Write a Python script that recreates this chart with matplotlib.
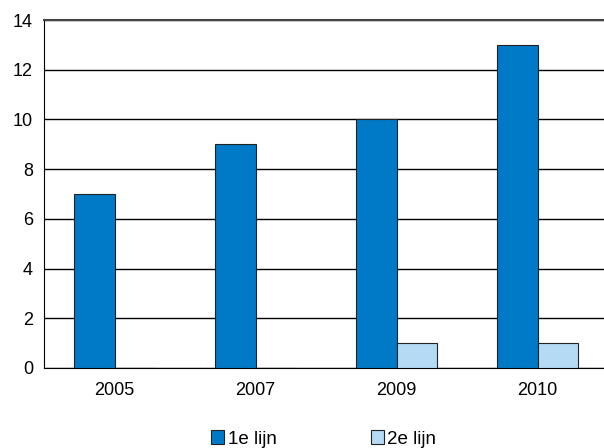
import numpy as np
import matplotlib.pyplot as plt

plt.rcParams['font.family'] = ['Liberation Sans', 'DejaVu Sans']

# data
jaren = ['2005', '2007', '2009', '2010']
eerste_lijn = [7, 9, 10, 13]
tweede_lijn = [0, 0, 1, 1]

fig = plt.figure(figsize=(6.04, 4.48), dpi=100)
ax = fig.add_axes([44 / 604, 1 - 368 / 448, 1 - 44 / 604, (368 - 20) / 448])

x = np.arange(len(jaren))
w = 0.287
ax.bar(x - w / 2, eerste_lijn, w, color='#0079C6', edgecolor='#222222', linewidth=0.8,
       label='1e lijn', zorder=3)
ax.bar(x + w / 2, tweede_lijn, w, color='#B5DAF4', edgecolor='#222222', linewidth=0.8,
       label='2e lijn', zorder=3)

ax.set_xlim(-0.5, -0.5 + 560 / 141)
ax.set_ylim(0, 14)
ax.set_yticks(range(0, 15, 2))
ax.set_xticks(x)
ax.set_xticklabels(jaren)
ax.yaxis.grid(True, color='black', linewidth=1)
ax.set_axisbelow(True)
ax.tick_params(length=0, labelsize=13)
ax.tick_params(axis='x', pad=10)
ax.tick_params(axis='y', pad=8)
ax.spines['right'].set_visible(False)
ax.spines['top'].set_color('#444444')
ax.spines['top'].set_linewidth(1.5)

leg = fig.legend(loc='center', bbox_to_anchor=(0.536, 1 - 439 / 448), ncol=2, frameon=False,
                 fontsize=13.5, handlelength=0.7, handleheight=0.7, handletextpad=0.2,
                 columnspacing=5.0)

fig.savefig('out.png', dpi=100)
